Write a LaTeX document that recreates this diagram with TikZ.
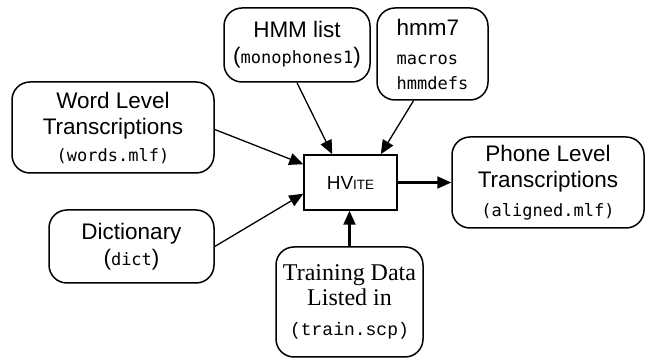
\documentclass[tikz,border=0pt]{standalone}
\usepackage{fontspec}
\setmainfont{Liberation Sans}
\newfontfamily\serifface{Liberation Serif}
\newfontfamily\monoface{DejaVu Sans Mono}
\newfontfamily\courface{Liberation Mono}
\usetikzlibrary{arrows.meta,calc}
\newcommand\mtxt[1]{{\monoface\fontsize{17}{20}\selectfont #1}}
\begin{document}
\begin{tikzpicture}[x=1pt,y=1pt,
  rbox/.style={draw, line width=1.5pt, rounded corners=18pt, inner sep=0pt, align=center, font=\fontsize{22.5}{26}\selectfont},
  sbox/.style={draw, line width=1.5pt, inner sep=0pt, font=\fontsize{19}{22}\selectfont},
  thinarrow/.style={line width=1.3pt, -{Triangle[length=14pt,width=12pt]}},
  thickarrow/.style={line width=2.2pt, -{Triangle[length=14pt,width=12pt]}}]
\useasboundingbox (0,0) rectangle (645,358);
\node[rbox, minimum width=146pt, minimum height=74pt] (hmm) at (297,313) {HMM list\\(\mtxt{monophones1})};
\node[rbox, align=left, minimum width=111pt, minimum height=92pt] (h7) at (432.5,304) {hmm7\\[3pt]\mtxt{macros}\\[-1pt]\mtxt{hmmdefs}};
\node[rbox, minimum width=202pt, minimum height=91pt] (word) at (113,230.5) {Word Level\\Transcriptions\\[1pt]\mtxt{(words.mlf)}};
\node[rbox, minimum width=165pt, minimum height=73pt] (dict) at (131.5,111.5) {Dictionary\\(\mtxt{dict})};
\node[sbox, minimum width=93pt, minimum height=55pt] (hv) at (350.5,175.5) {HV{\fontsize{13.5}{16}\selectfont ITE}};
\node[rbox, minimum width=192pt, minimum height=91pt] (phone) at (548,175.5) {Phone Level\\Transcriptions\\[3pt]\mtxt{(aligned.mlf)}};
\node[rbox, minimum width=147pt, minimum height=110pt, font=\serifface\fontsize{24}{25}\selectfont] (train) at (349.5,56) {Training Data\\Listed in\\[5pt]{\courface\fontsize{18}{20}\selectfont (train.scp)}};
\draw[thinarrow] (hmm.south) -- ($(hv.north west)+(29,0)$);
\draw[thinarrow] ($(h7.south)+(-19,0)$) -- ($(hv.north east)+(-17,0)$);
\draw[thinarrow] ($(word.east)+(0,-2)$) -- ($(hv.north west)+(0,-10)$);
\draw[thinarrow] (dict.east) -- ($(hv.south west)+(0,17)$);
\draw[thickarrow] (hv.east) -- (phone.west);
\draw[thickarrow] (train.north) -- (train.north |- hv.south);
\end{tikzpicture}
\end{document}
